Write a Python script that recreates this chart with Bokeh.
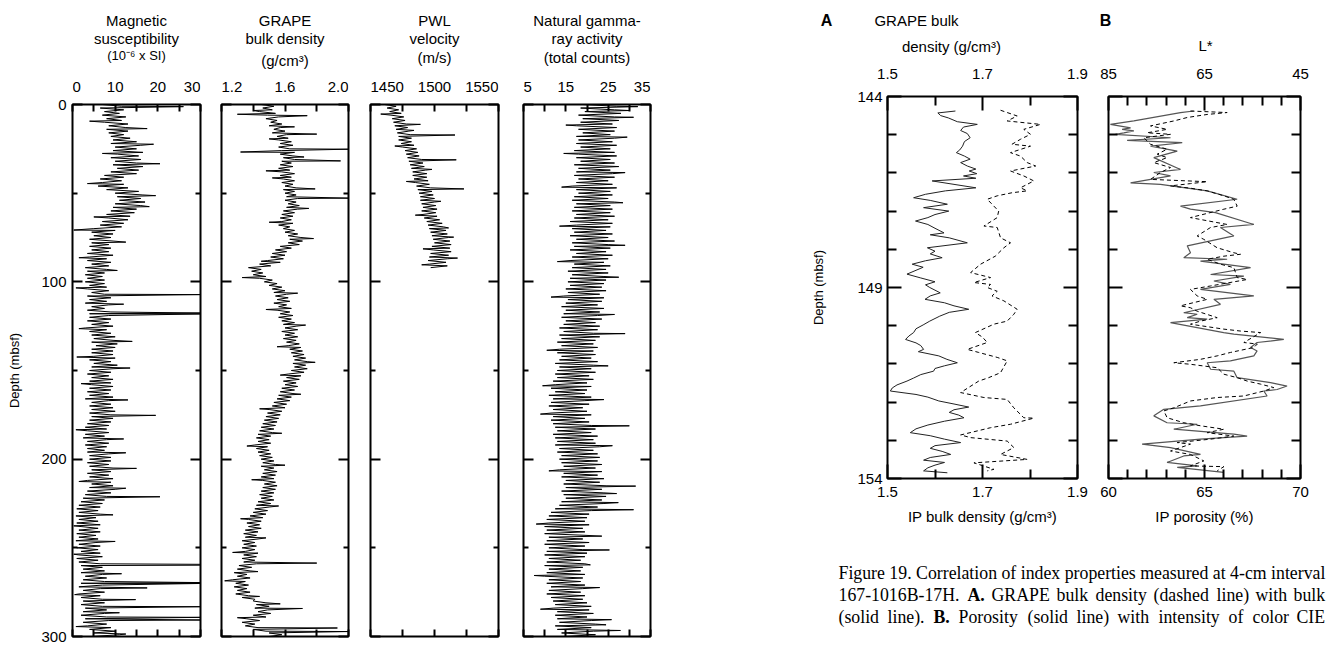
from bokeh.plotting import figure
from bokeh.models import Range1d, LinearAxis, FixedTicker, Label, Spacer
from bokeh.layouts import row, column
from bokeh.embed import file_html
from bokeh.resources import INLINE

SANS = "Liberation Sans"
SERIF = "Liberation Serif"

# ---------------- Site 1016 downhole logs (depth in mbsf, 1 m sampling) ----------------
log_depth_even = list(range(0, 302, 2))
log_depth_odd = list(range(1, 300, 2))
pwl_depth_even = list(range(0, 94, 2))
pwl_depth_odd = list(range(1, 93, 2))

mag_sus_even = [
    7.0, 6.5, 7.5, 7.0, 8.0, 7.5, 8.5, 8.0, 8.5, 9.0,
    9.5, 9.0, 10.0, 9.5, 10.5, 9.0, 10.0, 9.5, 10.5, 9.0,
    7.5, 6.5, 7.0, 6.0, 8.0, 10.0, 10.5, 11.0, 10.0, 9.5,
    9.0, 8.0, 8.5, 7.0, 6.5, 5.0, 4.5, 5.0, 4.0, 4.5,
    4.0, 4.5, 3.5, 4.0, 3.5, 4.5, 3.0, 3.5, 3.0, 3.5,
    3.0, 4.0, 3.5, 4.5, 3.5, 4.0, 3.0, 4.5, 3.5, 4.0,
    4.0, 3.5, 4.5, 3.0, 4.0, 4.5, 5.0, 4.5, 5.5, 4.5,
    4.5, 5.0, 4.0, 5.0, 4.5, 4.0, 3.5, 4.5, 4.0, 4.5,
    4.0, 3.5, 4.0, 3.0, 4.5, 4.0, 4.5, 4.0, 4.5, 4.0,
    3.5, 3.0, 3.5, 3.0, 2.5, 3.5, 3.0, 3.5, 3.5, 4.0,
    4.0, 3.5, 4.0, 4.5, 3.5, 4.0, 3.5, 4.5, 4.0, 3.5,
    3.0, 2.5, 2.0, 1.5, 1.0, 1.5, 0.8, 1.5, 1.0, 2.0,
    1.5, 1.0, 1.5, 0.8, 1.5, 1.0, 2.0, 1.5, 1.0, 1.5,
    2.0, 2.5, 2.0, 3.0, 2.5, 2.0, 1.5, 2.5, 1.5, 2.0,
    2.5, 2.0, 3.0, 2.5, 2.0, 3.0, 2.5, 3.5, 4.0, 5.0,
    4.5,
]
mag_sus_odd = [
    11.5, 12.0, 11.0, 12.5, 11.5, 13.0, 12.5, 13.0, 12.0, 13.5,
    15.0, 16.0, 15.0, 16.5, 15.5, 16.0, 15.0, 16.5, 15.5, 15.0,
    12.0, 11.5, 12.0, 13.0, 15.5, 16.5, 16.0, 17.0, 16.0, 15.0,
    14.5, 13.5, 13.0, 12.0, 11.5, 10.0, 9.5, 9.0, 9.5, 8.5,
    9.0, 8.5, 9.5, 8.0, 9.0, 8.5, 8.0, 7.5, 7.0, 7.5,
    7.5, 8.0, 8.5, 7.5, 9.0, 8.0, 8.5, 7.5, 9.0, 8.5,
    9.0, 8.5, 9.5, 8.0, 9.0, 10.0, 9.5, 10.5, 10.0, 9.5,
    9.5, 10.0, 9.0, 10.5, 9.5, 9.0, 8.5, 9.5, 9.0, 9.5,
    9.0, 8.5, 9.5, 8.5, 9.0, 9.5, 10.0, 9.0, 9.5, 9.0,
    8.5, 8.0, 8.5, 7.5, 8.0, 8.5, 8.0, 7.5, 8.5, 9.0,
    9.0, 8.5, 9.5, 9.0, 8.5, 9.5, 9.0, 9.5, 10.0, 9.0,
    8.0, 7.5, 7.0, 6.5, 6.0, 6.5, 5.5, 6.0, 6.5, 6.0,
    6.5, 5.5, 6.0, 5.5, 6.5, 6.0, 6.5, 7.0, 6.0, 6.5,
    7.0, 7.5, 7.0, 8.0, 7.5, 7.0, 6.5, 7.5, 6.5, 7.0,
    7.5, 7.0, 8.0, 7.5, 8.0, 8.5, 8.0, 9.0, 10.0, 11.0,
]
# isolated readings well outside the running band
mag_spike_depth = [1.2, 9.4, 13.6, 22.4, 27.6, 33.4, 44.6, 51.4, 57.6, 63.4,
                   70.8, 77.6, 86.4, 93.6, 103.4, 107.2, 112.6, 117.6, 118.1, 126.4,
                   133.6, 142.4, 148.6, 157.4, 166.6, 175.3, 183.4, 188.6, 196.4, 205.2,
                   212.6, 216.4, 221.2, 231.4, 237.6, 246.4, 253.6, 259.3, 259.8, 264.6,
                   269.6, 270.1, 272.6, 276.4, 279.2, 283.2, 286.6, 289.2, 290.7, 294.4,
                   298.6]
mag_spike_value = [26.0, 4.0, 17.5, 19.0, 7.0, 20.5, 3.5, 19.5, 18.0, 5.0,
                   0.3, 12.5, 1.5, 10.5, 0.8, 30.0, 12.0, 30.0, 30.0, 1.5,
                   14.0, 1.0, 13.5, 2.0, 13.0, 19.5, 0.8, 12.0, 12.5, 15.0,
                   1.5, 12.5, 20.5, 9.5, 0.3, 10.0, 0.3, 30.0, 30.0, 11.5,
                   30.0, 30.0, 17.5, 0.5, 14.8, 30.0, 11.0, 30.0, 30.0, 0.8,
                   12.5]

grape_even = [
    1.45, 1.46, 1.44, 1.49, 1.48, 1.51, 1.50, 1.53, 1.52, 1.55,
    1.56, 1.57, 1.56, 1.58, 1.57, 1.59, 1.58, 1.57, 1.56, 1.58,
    1.57, 1.59, 1.58, 1.60, 1.59, 1.60, 1.61, 1.60, 1.62, 1.61,
    1.59, 1.58, 1.57, 1.58, 1.56, 1.59, 1.60, 1.62, 1.63, 1.62,
    1.57, 1.54, 1.52, 1.51, 1.49, 1.44, 1.37, 1.39, 1.40, 1.44,
    1.47, 1.50, 1.52, 1.53, 1.54, 1.55, 1.53, 1.56, 1.55, 1.57,
    1.56, 1.58, 1.59, 1.60, 1.58, 1.60, 1.59, 1.61, 1.62, 1.63,
    1.64, 1.65, 1.66, 1.65, 1.66, 1.64, 1.62, 1.61, 1.59, 1.60,
    1.58, 1.57, 1.56, 1.55, 1.53, 1.52, 1.50, 1.49, 1.48, 1.47,
    1.46, 1.45, 1.44, 1.43, 1.42, 1.43, 1.41, 1.42, 1.43, 1.44,
    1.45, 1.46, 1.45, 1.47, 1.46, 1.45, 1.46, 1.47, 1.46, 1.45,
    1.44, 1.45, 1.43, 1.42, 1.41, 1.40, 1.38, 1.37, 1.36, 1.37,
    1.35, 1.34, 1.35, 1.33, 1.34, 1.33, 1.35, 1.34, 1.33, 1.34,
    1.31, 1.30, 1.28, 1.30, 1.27, 1.29, 1.28, 1.30, 1.29, 1.33,
    1.40, 1.42, 1.41, 1.43, 1.40, 1.36, 1.33, 1.35, 1.40, 1.50,
    1.50,
]
grape_odd = [
    1.53, 1.52, 1.54, 1.56, 1.55, 1.58, 1.57, 1.60, 1.61, 1.62,
    1.64, 1.65, 1.63, 1.66, 1.65, 1.66, 1.64, 1.65, 1.63, 1.66,
    1.64, 1.66, 1.65, 1.67, 1.66, 1.67, 1.68, 1.67, 1.69, 1.68,
    1.66, 1.65, 1.64, 1.65, 1.63, 1.66, 1.68, 1.70, 1.71, 1.69,
    1.64, 1.61, 1.60, 1.59, 1.57, 1.51, 1.45, 1.46, 1.48, 1.52,
    1.55, 1.58, 1.60, 1.61, 1.62, 1.63, 1.61, 1.64, 1.63, 1.65,
    1.64, 1.66, 1.67, 1.68, 1.66, 1.68, 1.67, 1.69, 1.70, 1.71,
    1.72, 1.73, 1.74, 1.73, 1.74, 1.72, 1.70, 1.69, 1.67, 1.68,
    1.66, 1.65, 1.64, 1.63, 1.61, 1.60, 1.58, 1.57, 1.56, 1.55,
    1.54, 1.53, 1.52, 1.51, 1.50, 1.51, 1.49, 1.50, 1.51, 1.52,
    1.53, 1.54, 1.53, 1.55, 1.54, 1.53, 1.54, 1.55, 1.54, 1.53,
    1.52, 1.53, 1.51, 1.50, 1.49, 1.48, 1.46, 1.45, 1.44, 1.45,
    1.43, 1.42, 1.43, 1.41, 1.42, 1.41, 1.43, 1.42, 1.41, 1.42,
    1.39, 1.38, 1.36, 1.38, 1.35, 1.37, 1.36, 1.38, 1.37, 1.41,
    1.48, 1.50, 1.49, 1.51, 1.48, 1.44, 1.41, 1.43, 1.48, 1.58,
]
grape_spike_depth = [3.4, 5.5, 6.3, 12.6, 16.7, 19.4, 25.2, 26.8, 29.6, 31.8,
                     37.4, 41.4, 47.6, 52.8, 58.6, 66.4, 75.6, 88.4, 97.6, 106.4,
                     115.6, 124.4, 136.6, 145.4, 152.6, 163.4, 171.6, 185.4, 192.6, 203.4,
                     211.6, 226.4, 233.6, 244.4, 252.6, 258.6, 263.4, 268.6, 277.4, 281.6,
                     284.2, 289.4, 295.2, 297.2]
grape_spike_value = [1.40, 1.30, 1.74, 1.66, 1.80, 1.50, 2.00, 1.32, 1.72, 1.95,
                     1.48, 1.52, 1.79, 2.00, 1.75, 1.50, 1.78, 1.45, 1.33, 1.68,
                     1.48, 1.73, 1.55, 1.79, 1.57, 1.70, 1.44, 1.58, 1.36, 1.60,
                     1.39, 1.56, 1.32, 1.48, 1.27, 1.80, 1.43, 1.22, 1.44, 1.57,
                     1.71, 1.30, 1.93, 2.00]

pwl_even = [
    1461, 1463, 1465, 1466, 1467, 1468, 1469, 1470, 1471, 1472,
    1472, 1474, 1475, 1477, 1478, 1479, 1480, 1481, 1482, 1483,
    1483, 1484, 1485, 1486, 1487, 1488, 1489, 1489, 1490, 1491,
    1490, 1491, 1492, 1494, 1495, 1496, 1497, 1498, 1499, 1500,
    1498, 1499, 1497, 1496, 1495, 1496, 1497,
]
pwl_odd = [
    1470, 1472, 1474, 1476, 1477, 1478, 1479, 1480, 1481, 1482,
    1482, 1484, 1486, 1487, 1488, 1490, 1491, 1492, 1493, 1494,
    1494, 1495, 1496, 1497, 1498, 1499, 1500, 1500, 1501, 1502,
    1501, 1502, 1504, 1506, 1507, 1509, 1510, 1511, 1512, 1513,
    1512, 1513, 1511, 1510, 1509, 1510,
]
pwl_spike_depth = [5.4, 11.2, 14.6, 17.2, 23.4, 31.2, 36.6, 43.4, 47.6, 54.6,
                   62.4, 69.6, 74.8, 81.4, 86.6, 90.4]
pwl_spike_value = [1458, 1489, 1484, 1516, 1469, 1517, 1498, 1478, 1523, 1505,
                   1485, 1511, 1515, 1491, 1518, 1490]

gamma_even = [
    19.0, 18.5, 19.5, 18.0, 19.0, 18.5, 17.5, 18.0, 19.0, 17.5,
    18.0, 17.5, 18.5, 17.0, 18.0, 17.5, 18.5, 17.0, 18.0, 17.5,
    17.0, 18.0, 17.5, 16.5, 17.5, 18.0, 17.0, 16.5, 17.5, 17.0,
    16.5, 17.5, 17.0, 16.0, 17.5, 16.5, 17.0, 16.0, 17.5, 16.5,
    17.0, 16.0, 17.5, 16.5, 16.0, 17.0, 16.5, 15.5, 16.5, 16.0,
    15.5, 16.0, 15.0, 15.5, 14.5, 15.5, 15.0, 14.0, 15.0, 14.5,
    14.0, 15.0, 14.5, 13.5, 14.5, 13.5, 14.0, 13.0, 14.0, 13.5,
    13.0, 14.0, 13.5, 12.5, 13.5, 13.0, 12.5, 13.0, 12.0, 12.5,
    11.5, 12.5, 11.0, 12.0, 11.5, 11.0, 12.0, 11.5, 12.0, 11.5,
    12.0, 12.5, 13.0, 12.0, 12.5, 13.0, 12.5, 13.5, 13.0, 14.0,
    13.5, 14.0, 14.5, 13.5, 14.5, 14.0, 15.0, 14.5, 15.0, 14.0,
    14.5, 15.0, 14.0, 13.5, 12.5, 11.5, 11.0, 10.5, 11.0, 10.0,
    10.5, 10.0, 11.0, 10.5, 10.0, 11.0, 10.5, 10.0, 11.0, 10.5,
    10.0, 11.0, 10.5, 10.0, 11.0, 10.5, 11.5, 11.0, 10.5, 11.5,
    12.0, 12.5, 12.0, 13.0, 12.5, 13.0, 13.5, 12.5, 13.0, 14.0,
    14.5,
]
gamma_odd = [
    27.0, 26.5, 28.0, 26.5, 27.5, 26.0, 27.0, 26.5, 25.5, 26.5,
    26.0, 27.0, 25.5, 26.5, 27.0, 25.5, 26.5, 27.5, 25.5, 26.0,
    26.5, 25.0, 26.0, 27.0, 25.5, 26.0, 25.0, 26.5, 25.5, 26.0,
    25.5, 26.5, 25.0, 26.0, 25.5, 24.5, 26.0, 25.0, 26.5, 25.0,
    25.5, 24.5, 26.0, 25.0, 24.0, 25.5, 24.5, 25.0, 24.0, 24.5,
    24.0, 23.5, 24.5, 23.0, 24.0, 23.5, 22.5, 24.0, 23.0, 22.5,
    23.5, 22.0, 23.0, 22.5, 21.5, 23.0, 22.0, 21.5, 22.5, 21.5,
    22.0, 21.0, 22.5, 21.5, 21.0, 22.0, 20.5, 21.5, 20.0, 21.0,
    20.0, 19.5, 21.0, 19.5, 20.5, 19.0, 20.0, 21.0, 19.5, 20.5,
    21.0, 22.0, 21.0, 22.5, 21.5, 22.0, 23.0, 21.5, 22.5, 23.0,
    22.5, 23.5, 22.0, 23.5, 22.5, 24.0, 23.0, 24.5, 23.5, 24.0,
    24.5, 23.5, 24.0, 22.5, 21.0, 20.5, 20.0, 19.5, 20.5, 19.0,
    19.5, 20.0, 19.0, 20.5, 19.5, 19.0, 20.0, 19.5, 18.5, 19.5,
    19.0, 18.5, 19.5, 19.0, 18.5, 19.5, 19.0, 18.5, 19.5, 19.0,
    20.0, 21.0, 20.5, 21.5, 20.0, 21.0, 22.0, 21.0, 21.5, 22.0,
]
gamma_spike_depth = [1.2, 3.4, 7.2, 11.6, 18.4, 27.6, 38.4, 46.6, 55.4, 68.6,
                     79.4, 88.6, 97.4, 108.6, 118.4, 129.2, 138.6, 147.4, 158.6, 166.4,
                     174.6, 181.2, 192.4, 206.6, 215.2, 219.4, 224.5, 228.5, 236.6, 243.4,
                     251.2, 259.6, 265.6, 272.4, 284.6, 290.5, 293.4, 296.6]
gamma_spike_value = [32.0, 30.0, 31.0, 15.0, 29.5, 14.5, 29.0, 14.0, 28.5, 13.5,
                     29.0, 13.0, 27.5, 11.5, 26.5, 29.0, 10.5, 25.0, 9.5, 24.0,
                     9.0, 30.0, 26.0, 11.0, 31.5, 27.0, 27.4, 31.0, 8.0, 23.5,
                     25.3, 20.8, 7.5, 23.0, 9.0, 25.8, 24.5, 27.9]

mag_ticks, mag_minor, mag_tick_text = [0, 10, 20, 30], [5, 15, 25], ["0", "10", "20", "30"]
grape_ticks, grape_minor, grape_tick_text = [1.2, 1.6, 2.0], [1.4, 1.8], ["1.2", "1.6", "2.0"]
pwl_ticks, pwl_minor, pwl_tick_text = [1450, 1500, 1550], [1475, 1525], ["1450", "1500", "1550"]
gamma_ticks, gamma_minor, gamma_tick_text = [5, 15, 25, 35], [10, 20, 30], ["5", "15", "25", "35"]

# ---------------- Section 167-1016B-17H index properties ----------------
ip_dens_depth = [
    144.38, 144.43, 144.50, 144.56, 144.66, 144.73, 144.80, 144.89, 144.97, 145.08,
    145.18, 145.30, 145.40, 145.47, 145.56, 145.64, 145.73, 145.82, 145.90, 145.95,
    146.02, 146.08, 146.14, 146.21, 146.30, 146.39, 146.47, 146.56, 146.65, 146.72,
    146.82, 146.91, 147.00, 147.09, 147.17, 147.26, 147.35, 147.45, 147.57, 147.62,
    147.70, 147.83, 147.96, 148.05, 148.12, 148.22, 148.30, 148.39, 148.47, 148.55,
    148.65, 148.75, 148.85, 148.93, 149.00, 149.14, 149.22, 149.31, 149.40, 149.48,
    149.57, 149.65, 149.75, 149.88, 149.98, 150.08, 150.18, 150.27, 150.36, 150.45,
    150.52, 150.62, 150.68, 150.79, 150.88, 150.97, 151.05, 151.12, 151.19, 151.28,
    151.37, 151.45, 151.55, 151.63, 151.71, 151.80, 151.87, 151.97, 152.05, 152.13,
    152.20, 152.27, 152.34, 152.41, 152.50, 152.60, 152.70, 152.80, 152.88, 152.97,
    153.06, 153.14, 153.21, 153.29, 153.37, 153.45, 153.52, 153.58, 153.65, 153.72,
    153.80, 153.85,
]
ip_dens = [
    1.643, 1.606, 1.612, 1.628, 1.647, 1.689, 1.660, 1.654, 1.668, 1.674,
    1.662, 1.658, 1.652, 1.645, 1.662, 1.674, 1.654, 1.668, 1.686, 1.672,
    1.688, 1.660, 1.686, 1.594, 1.640, 1.686, 1.622, 1.580, 1.555, 1.590,
    1.626, 1.576, 1.629, 1.600, 1.585, 1.559, 1.585, 1.600, 1.619, 1.590,
    1.630, 1.668, 1.584, 1.600, 1.590, 1.615, 1.580, 1.552, 1.575, 1.560,
    1.541, 1.570, 1.600, 1.580, 1.589, 1.611, 1.590, 1.579, 1.620, 1.640,
    1.671, 1.630, 1.610, 1.589, 1.575, 1.560, 1.555, 1.545, 1.538, 1.560,
    1.570, 1.576, 1.565, 1.608, 1.625, 1.647, 1.620, 1.600, 1.597, 1.570,
    1.555, 1.541, 1.520, 1.510, 1.506, 1.560, 1.585, 1.608, 1.640, 1.671,
    1.640, 1.630, 1.650, 1.661, 1.620, 1.585, 1.560, 1.548, 1.590, 1.620,
    1.654, 1.600, 1.590, 1.615, 1.633, 1.590, 1.576, 1.620, 1.600, 1.585,
    1.576, 1.626,
]

grape_core_depth = [
    144.36, 144.51, 144.64, 144.73, 144.86, 144.99, 145.12, 145.25, 145.30, 145.47,
    145.56, 145.73, 145.82, 145.95, 146.08, 146.21, 146.39, 146.47, 146.52, 146.60,
    146.69, 146.87, 147.00, 147.17, 147.39, 147.43, 147.70, 147.83, 147.96, 148.18,
    148.39, 148.61, 148.74, 148.87, 148.92, 149.00, 149.10, 149.22, 149.35, 149.57,
    149.70, 149.88, 149.96, 150.18, 150.30, 150.44, 150.62, 150.70, 150.83, 150.92,
    151.23, 151.36, 151.45, 151.75, 151.88, 151.93, 152.15, 152.41, 152.42, 152.58,
    152.67, 152.86, 152.93, 153.02, 153.19, 153.37, 153.50, 153.59, 153.76, 153.80,
]
grape_core = [
    1.738, 1.773, 1.752, 1.822, 1.787, 1.801, 1.780, 1.762, 1.801, 1.759,
    1.780, 1.794, 1.812, 1.759, 1.787, 1.808, 1.780, 1.794, 1.762, 1.731,
    1.710, 1.724, 1.734, 1.731, 1.703, 1.731, 1.738, 1.759, 1.745, 1.727,
    1.696, 1.675, 1.717, 1.682, 1.717, 1.710, 1.731, 1.720, 1.745, 1.773,
    1.766, 1.752, 1.724, 1.685, 1.700, 1.710, 1.668, 1.692, 1.731, 1.752,
    1.738, 1.713, 1.692, 1.654, 1.703, 1.752, 1.766, 1.787, 1.808, 1.759,
    1.717, 1.654, 1.675, 1.752, 1.766, 1.738, 1.794, 1.682, 1.724, 1.710,
]

porosity_depth = [
    144.38, 144.42, 144.64, 144.73, 144.82, 144.86, 144.90, 144.95, 144.99, 145.08,
    145.15, 145.21, 145.30, 145.43, 145.60, 145.91, 145.99, 146.08, 146.26, 146.30,
    146.47, 146.69, 146.87, 146.95, 147.04, 147.35, 147.43, 147.65, 147.91, 148.09,
    148.22, 148.26, 148.31, 148.48, 148.66, 148.70, 148.83, 148.92, 149.05, 149.22,
    149.31, 149.44, 149.66, 149.70, 149.79, 149.83, 149.92, 150.18, 150.22, 150.36,
    150.44, 150.57, 150.66, 150.79, 150.92, 150.97, 151.14, 151.19, 151.36, 151.49,
    151.58, 151.67, 151.71, 151.84, 152.10, 152.19, 152.36, 152.54, 152.58, 152.71,
    152.84, 152.89, 152.97, 153.10, 153.19, 153.37, 153.41, 153.58, 153.67, 153.71,
    153.84,
]
porosity = [
    64.44, 63.75, 61.32, 60.10, 61.15, 60.71, 61.32, 60.80, 60.36, 63.23,
    60.97, 63.84, 62.19, 63.58, 62.36, 63.75, 62.36, 63.23, 61.15, 62.71,
    65.14, 66.70, 63.75, 64.27, 65.57, 67.57, 65.83, 66.53, 64.10, 64.27,
    63.92, 66.18, 64.79, 67.40, 65.32, 67.05, 65.49, 66.35, 64.79, 67.57,
    65.49, 65.83, 63.92, 64.62, 64.10, 65.14, 63.23, 66.00, 66.53, 69.13,
    67.74, 67.40, 67.74, 67.57, 66.35, 65.14, 65.32, 66.53, 66.70, 68.44,
    69.30, 68.78, 68.09, 68.26, 64.79, 62.88, 62.36, 63.05, 64.62, 63.40,
    66.53, 67.22, 64.79, 61.75, 63.23, 64.79, 63.92, 63.05, 64.62, 63.58,
    66.00,
]

lstar_depth = [
    144.38, 144.42, 144.47, 144.55, 144.64, 144.77, 144.86, 144.95, 144.99, 145.08,
    145.25, 145.38, 145.51, 145.60, 145.73, 145.86, 145.99, 146.17, 146.23, 146.28,
    146.34, 146.40, 146.47, 146.60, 146.69, 146.87, 146.95, 147.17, 147.35, 147.43,
    147.65, 147.74, 147.96, 148.09, 148.13, 148.18, 148.26, 148.39, 148.48, 148.74,
    148.79, 148.96, 149.05, 149.22, 149.31, 149.48, 149.53, 149.62, 149.79, 149.88,
    149.96, 150.09, 150.14, 150.18, 150.44, 150.48, 150.57, 150.70, 150.79, 150.88,
    150.97, 151.01, 151.10, 151.27, 151.36, 151.45, 151.53, 151.62, 151.71, 151.84,
    151.88, 151.97, 152.15, 152.23, 152.41, 152.54, 152.62, 152.71, 152.80, 152.89,
    152.97, 153.06, 153.10, 153.19, 153.28, 153.37, 153.54, 153.67, 153.69, 153.80,
]
lstar = [
    67.92, 60.28, 64.44, 68.61, 71.39, 76.25, 72.78, 76.94, 72.08, 77.64,
    76.25, 72.78, 74.86, 72.78, 75.56, 72.08, 74.17, 76.25, 64.44, 67.92,
    72.08, 67.92, 64.44, 60.97, 58.89, 58.19, 60.97, 67.92, 60.28, 63.75,
    66.53, 65.14, 62.36, 58.89, 57.50, 60.97, 64.44, 61.67, 58.89, 58.19,
    56.10, 63.75, 67.92, 66.53, 64.44, 70.00, 67.92, 66.53, 62.36, 65.83,
    67.92, 60.97, 57.50, 53.30, 56.80, 54.00, 54.70, 59.58, 62.36, 65.83,
    71.39, 67.92, 62.36, 60.97, 58.20, 56.10, 53.30, 50.56, 52.64, 56.80,
    62.36, 67.92, 71.39, 73.47, 72.78, 69.31, 65.83, 60.97, 64.44, 58.89,
    63.75, 70.69, 67.92, 70.00, 72.08, 67.92, 65.14, 67.92, 60.97, 62.36,
]


def merge(*series):
    """Join (depth list, value list) pairs into one depth-ordered trace."""
    pairs = []
    for depths, values in series:
        pairs.extend(zip(depths, values))
    pairs.sort()
    return [d for d, _ in pairs], [v for _, v in pairs]


def dress(ax, major_in, minor_in, labels=False, size="15px", standoff=6):
    ax.axis_line_color = None
    ax.major_tick_in, ax.major_tick_out = major_in, 0
    ax.minor_tick_in, ax.minor_tick_out = minor_in, 0
    ax.major_tick_line_width = 2
    ax.minor_tick_line_width = 2
    ax.major_tick_line_color = "black"
    ax.minor_tick_line_color = "black"
    if labels:
        ax.major_label_text_font = SANS
        ax.major_label_text_font_size = size
        ax.major_label_text_color = "black"
        ax.major_label_standoff = standoff
    else:
        ax.major_label_text_font_size = "0px"
        ax.major_label_text_color = None
        ax.major_label_standoff = 0


def axis_title(ax, s, size, standoff):
    ax.axis_label = s
    ax.axis_label_text_font = SANS
    ax.axis_label_text_font_size = size
    ax.axis_label_text_font_style = "normal"
    ax.axis_label_text_color = "black"
    ax.axis_label_standoff = standoff


def text(p, x, y, s, size="15px", align="center", font=SANS, style="normal"):
    p.add_layout(Label(x=x, y=y, text=s, text_font=font, text_font_size=size,
                       text_font_style=style, text_align=align, text_baseline="middle",
                       text_color="black"))


def blank(fig):
    fig.outline_line_color = None
    fig.grid.visible = False
    return fig


HEAD_H = 95


def log_panel(xr, ticks, minor, tick_text, b_left, frame_w, b_right, heading, depth_axis=False):
    p = figure(width=b_left + frame_w + b_right, height=646 - HEAD_H,
               x_range=Range1d(*xr), y_range=Range1d(300, 0),
               x_axis_location=None, y_axis_location=None,
               min_border_left=b_left, min_border_right=b_right,
               min_border_top=9, min_border_bottom=10,
               output_backend="svg", toolbar_location=None)
    p.grid.visible = False
    p.outline_line_color = "black"
    p.outline_line_width = 2
    for side in ("above", "below"):
        ax = LinearAxis(ticker=FixedTicker(ticks=ticks, minor_ticks=minor))
        dress(ax, 7, 7)
        p.add_layout(ax, side)
    for side in ("left", "right"):
        ax = LinearAxis(ticker=FixedTicker(ticks=[0, 100, 200, 300], minor_ticks=[50, 150, 250]))
        if side == "left" and depth_axis:
            dress(ax, 10, 5, labels=True, standoff=6)
            axis_title(ax, "Depth (mbsf)", "13px", 16)
        else:
            dress(ax, 10, 5)
        p.add_layout(ax, side)

    # heading strip above the track, sharing the track's value scale
    h = blank(figure(width=b_left + frame_w + b_right, height=HEAD_H,
                     x_range=p.x_range, y_range=Range1d(HEAD_H, 0),
                     x_axis_location=None, y_axis_location=None,
                     min_border_left=b_left, min_border_right=b_right,
                     min_border_top=0, min_border_bottom=0,
                     output_backend="svg", toolbar_location=None))
    n = len(ticks)
    for i, (v, s) in enumerate(zip(ticks, tick_text)):
        align = "left" if i == 0 else ("right" if i == n - 1 else "center")
        text(h, v, 86, s, align=align)
    mid = (xr[0] + xr[1]) / 2
    for s, y, size in heading:
        text(h, mid, y, s, size=size)
    return p, column(h, p)


p_mag, c_mag = log_panel((0, 30), mag_ticks, mag_minor, mag_tick_text, 72, 128, 10,
                         [("Magnetic", 20, "15px"), ("susceptibility", 38, "15px"),
                          ("(10\u207b\u2076 x SI)", 55, "13px")], depth_axis=True)
d, v = merge((log_depth_even, mag_sus_even), (log_depth_odd, mag_sus_odd),
             (mag_spike_depth, mag_spike_value))
p_mag.line(x=v, y=d, line_color="black", line_width=1)

p_grape, c_grape = log_panel((1.2, 2.0), grape_ticks, grape_minor, grape_tick_text, 11, 127, 11,
                             [("GRAPE", 20, "15px"), ("bulk density", 38, "15px"),
                              ("(g/cm\u00b3)", 60, "15px")])
d, v = merge((log_depth_even, grape_even), (log_depth_odd, grape_odd),
             (grape_spike_depth, grape_spike_value))
p_grape.line(x=v, y=d, line_color="black", line_width=1)

p_pwl, c_pwl = log_panel((1450, 1550), pwl_ticks, pwl_minor, pwl_tick_text, 11, 128, 12,
                         [("PWL", 20, "15px"), ("velocity", 38, "15px"), ("(m/s)", 57, "15px")])
d, v = merge((pwl_depth_even, pwl_even), (pwl_depth_odd, pwl_odd),
             (pwl_spike_depth, pwl_spike_value))
p_pwl.line(x=v, y=d, line_color="black", line_width=1)

p_gamma, c_gamma = log_panel((5, 35), gamma_ticks, gamma_minor, gamma_tick_text, 13, 127, 10,
                             [("Natural gamma-", 20, "15px"), ("ray activity", 38, "15px"),
                              ("(total counts)", 57, "15px")])
d, v = merge((log_depth_even, gamma_even), (log_depth_odd, gamma_odd),
             (gamma_spike_depth, gamma_spike_value))
p_gamma.line(x=v, y=d, line_color="black", line_width=1)


# ---------------- core panels A and B ----------------
depth_ticker = dict(ticks=[144, 149, 154], minor_ticks=[145, 146, 147, 148, 150, 151, 152, 153])
CORE_HEAD_H = 58
CORE_TOP = 38


def core_panel(xr, b_left, frame_w, b_right):
    p = figure(width=b_left + frame_w + b_right, height=CORE_TOP + 382 + 58,
               x_range=Range1d(*xr), y_range=Range1d(154, 144),
               x_axis_location=None, y_axis_location=None,
               min_border_left=b_left, min_border_right=b_right,
               min_border_top=CORE_TOP, min_border_bottom=58,
               output_backend="svg", toolbar_location=None)
    p.grid.visible = False
    p.outline_line_color = "black"
    p.outline_line_width = 2
    return p


p_a = core_panel((1.5, 1.9), 147, 190, 15)
for side in ("above", "below"):
    ax = LinearAxis(ticker=FixedTicker(ticks=[1.5, 1.7, 1.9], minor_ticks=[1.6, 1.8]))
    dress(ax, 14, 9, labels=True, standoff=18 if side == "above" else 8)
    if side == "below":
        axis_title(ax, "IP bulk density (g/cm\u00b3)", "15px", 8)
    p_a.add_layout(ax, side)
for side in ("left", "right"):
    ax = LinearAxis(ticker=FixedTicker(**depth_ticker))
    if side == "left":
        dress(ax, 14, 9, labels=True, standoff=5)
        axis_title(ax, "Depth (mbsf)", "13px", 28)
    else:
        dress(ax, 14, 9)
    p_a.add_layout(ax, side)
p_a.line(x=ip_dens, y=ip_dens_depth, line_color="#222222", line_width=1)
p_a.line(x=grape_core, y=grape_core_depth, line_color="black", line_width=1, line_dash="4 3")

p_b = core_panel((60, 70), 16, 192, 28)
p_b.extra_x_ranges = {"lstar": Range1d(85, 45)}
ax = LinearAxis(x_range_name="lstar",
                ticker=FixedTicker(ticks=[85, 65, 45], minor_ticks=[81, 77, 73, 69, 61, 57, 53, 49]))
dress(ax, 14, 9, labels=True, standoff=18)
p_b.add_layout(ax, "above")
ax = LinearAxis(ticker=FixedTicker(ticks=[60, 65, 70], minor_ticks=[61, 62, 63, 64, 66, 67, 68, 69]))
dress(ax, 14, 9, labels=True, standoff=8)
axis_title(ax, "IP porosity (%)", "15px", 8)
p_b.add_layout(ax, "below")
for side in ("left", "right"):
    ax = LinearAxis(ticker=FixedTicker(**depth_ticker))
    dress(ax, 14, 9)
    p_b.add_layout(ax, side)
p_b.line(x=porosity, y=porosity_depth, line_color="#555555", line_width=1.2)
p_b.line(x=lstar, y=lstar_depth, x_range_name="lstar", line_color="black",
         line_width=1, line_dash="4 3")

# panel headings (positions in pixels across the right-hand block)
p_head = blank(figure(width=588, height=CORE_HEAD_H, x_range=Range1d(0, 588),
                      y_range=Range1d(CORE_HEAD_H, 0), x_axis_location=None,
                      y_axis_location=None, min_border=0,
                      output_backend="svg", toolbar_location=None))
text(p_head, 86, 20, "A", size="16px", style="bold")
text(p_head, 176, 20, "GRAPE bulk")
text(p_head, 211, 46, "density (g/cm\u00b3)")
text(p_head, 365, 20, "B", size="16px", style="bold")
text(p_head, 465, 45, "L*")

# ---------------- caption ----------------
p_cap = blank(figure(width=588, height=110, x_range=Range1d(0, 588), y_range=Range1d(110, 0),
                     x_axis_location=None, y_axis_location=None, min_border=0,
                     output_backend="svg", toolbar_location=None))
cap = dict(size="17.8px", align="left", font=SERIF)
text(p_cap, 98, 36, "Figure 19. Correlation of index properties measured at 4-cm interval", **cap)
for x, s, st in [(98, "167-1016B-17H.", "normal"), (227, "A.", "bold"), (251, "GRAPE", "normal"),
                 (316, "bulk", "normal"), (355, "density", "normal"), (413, "(dashed", "normal"),
                 (476, "line)", "normal"), (515, "with", "normal"), (553, "bulk", "normal")]:
    text(p_cap, x, 58, s, style=st, **cap)
for x, s, st in [(98, "(solid", "normal"), (147, "line).", "normal"), (193, "B.", "bold"),
                 (218, "Porosity", "normal"), (287, "(solid", "normal"), (336, "line)", "normal"),
                 (377, "with", "normal"), (418, "intensity", "normal"), (488, "of", "normal"),
                 (512, "color", "normal"), (556, "CIE", "normal")]:
    text(p_cap, x, 80, s, style=st, **cap)

left = row(c_mag, c_grape, c_pwl, c_gamma)
right = column(p_head, row(p_a, p_b), p_cap)
page = row(left, Spacer(width=80, height=646), right)

open("out.html", "w").write(file_html(page, INLINE, title="Site 1016 physical properties"))
